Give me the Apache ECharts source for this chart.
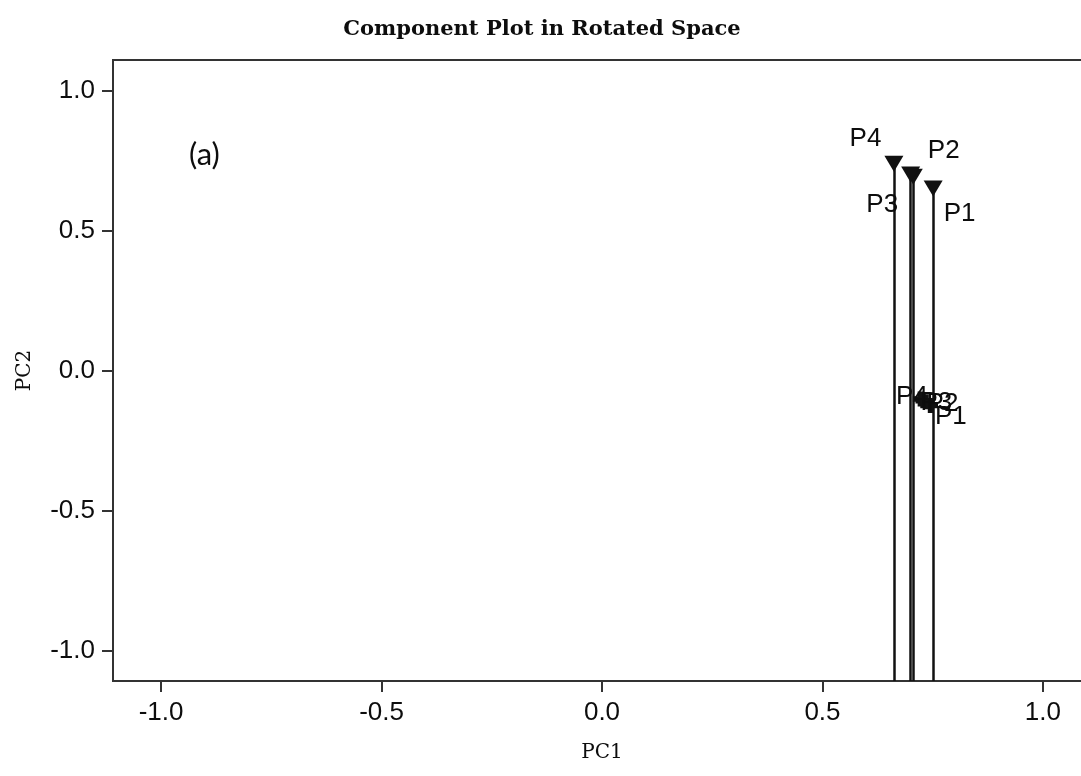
<!DOCTYPE html>
<html>
<head>
<meta charset="utf-8">
<title>Component Plot in Rotated Space</title>
<script src="https://cdn.jsdelivr.net/npm/echarts@6/dist/echarts.min.js"></script>
<style>
  html, body { margin: 0; padding: 0; background: #ffffff; }
  #chart { width: 1081px; height: 776px; }
</style>
</head>
<body>
<div id="chart"></div>
<script>
// Component loadings (rotated), variables P1..P4
const variables = ['P1', 'P2', 'P3', 'P4'];
const loadingPC1 = [0.751, 0.706, 0.700, 0.662];
const loadingPC2 = [0.650, 0.692, 0.700, 0.738];

// Second marker set close to the PC1 axis
const projPC1 = [0.745, 0.735, 0.728, 0.722];
const projPC2 = [-0.125, -0.112, -0.108, -0.102];

// Axis ticks
const tickValues = [-1.0, -0.5, 0.0, 0.5, 1.0];
const axisMin = -1.109;
const axisMax = 1.109;

// Label placement per variable: [position, dx, dy]
const topLabelPlace = {
  P1: ['right', -4, 25],
  P2: ['right', 0, -26],
  P3: ['left', 2, 30],
  P4: ['left', 2, -25]
};
const lowLabelPlace = {
  P1: ['right', -8, 11],
  P2: ['right', -12, 2],
  P3: ['right', -15, 2],
  P4: ['left', 20, -2]
};

const sansFont = '"Liberation Sans", Arial, sans-serif';
const serifFont = '"DejaVu Serif", "Liberation Serif", serif';
const ink = '#0d0d0d';

const topPoints = variables.map((name, i) => ({
  name,
  value: [loadingPC1[i], loadingPC2[i]],
  label: {
    position: topLabelPlace[name][0],
    offset: [topLabelPlace[name][1], topLabelPlace[name][2]]
  }
}));

const lowPoints = variables.map((name, i) => ({
  name,
  value: [projPC1[i], projPC2[i]],
  label: {
    position: lowLabelPlace[name][0],
    offset: [lowLabelPlace[name][1], lowLabelPlace[name][2]]
  }
}));

// Drop lines from each loading marker down to the lower frame
const dropLines = variables.map((name, i) => [
  { coord: [loadingPC1[i], loadingPC2[i]] },
  { coord: [loadingPC1[i], axisMin] }
]);

const plusPath = 'path://M3.2,0 H6.8 V3.2 H10 V6.8 H6.8 V10 H3.2 V6.8 H0 V3.2 H3.2 Z';

const axisCommon = {
  type: 'value',
  min: axisMin,
  max: axisMax,
  splitLine: { show: false },
  axisLine: { show: true, onZero: false, lineStyle: { color: '#333', width: 2 } },
  axisTick: {
    show: true, inside: false, length: 11,
    customValues: tickValues,
    lineStyle: { color: '#333', width: 2 }
  },
  axisLabel: {
    customValues: tickValues,
    formatter: v => v.toFixed(1),
    color: ink,
    fontFamily: sansFont,
    fontSize: 26
  },
  nameLocation: 'middle',
  nameTextStyle: { fontFamily: serifFont, fontSize: 20, color: ink }
};

const labelStyle = {
  show: true,
  formatter: p => p.name,
  fontFamily: sansFont,
  fontSize: 26,
  color: ink
};

const chart = echarts.init(document.getElementById('chart'), null, { renderer: 'canvas' });

chart.setOption({
  backgroundColor: '#ffffff',
  animation: false,
  title: {
    text: 'Component Plot in Rotated Space',
    left: 537,
    textAlign: 'center',
    top: 14,
    textStyle: { fontFamily: serifFont, fontWeight: 'bold', fontSize: 21, color: ink }
  },
  graphic: [{
    type: 'text',
    left: 189,
    top: 139,
    style: { text: '(a)', fontFamily: 'Lato, "Open Sans", sans-serif', fontSize: 31, fill: ink }
  }],
  grid: {
    left: 113, top: 60, right: -10, bottom: 95,
    outerBoundsMode: 'none',
    containLabel: false,
    show: true, borderColor: '#333', borderWidth: 2, backgroundColor: 'transparent'
  },
  xAxis: Object.assign({}, axisCommon, {
    name: 'PC1',
    nameGap: 62,
    axisLabel: Object.assign({}, axisCommon.axisLabel, { margin: 19 })
  }),
  yAxis: Object.assign({}, axisCommon, {
    name: 'PC2',
    nameGap: 78,
    axisLabel: Object.assign({}, axisCommon.axisLabel, { margin: 18 })
  }),
  series: [
    {
      type: 'scatter',
      name: 'loadings',
      data: topPoints,
      symbol: 'triangle',
      symbolRotate: 180,
      symbolSize: [19, 16],
      itemStyle: { color: '#111', opacity: 1 },
      z: 5,
      label: labelStyle,
      markLine: {
        silent: true,
        symbol: 'none',
        label: { show: false },
        lineStyle: { color: '#111', width: 2.5, type: 'solid', opacity: 1 },
        data: dropLines
      }
    },
    {
      type: 'scatter',
      name: 'projection',
      data: lowPoints,
      symbol: plusPath,
      symbolSize: 15,
      itemStyle: { color: '#111', opacity: 1 },
      z: 5,
      label: labelStyle
    }
  ]
});
</script>
</body>
</html>
